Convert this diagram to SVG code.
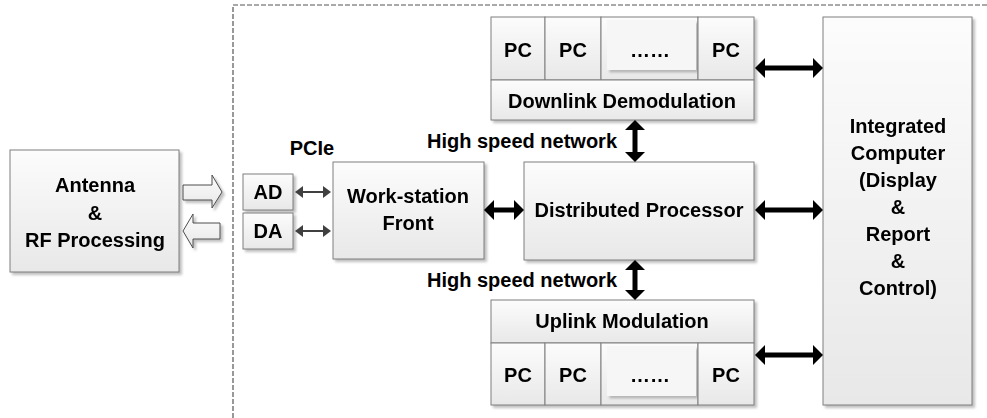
<svg xmlns="http://www.w3.org/2000/svg" width="987" height="418" viewBox="0 0 987 418">
<defs>
<linearGradient id="g" x1="0" y1="0" x2="0" y2="1">
<stop offset="0" stop-color="#fcfcfc"/>
<stop offset="1" stop-color="#e8e8e8"/>
</linearGradient>
<filter id="sh" x="-10%" y="-10%" width="130%" height="130%">
<feDropShadow dx="2.5" dy="2.5" stdDeviation="1.2" flood-color="#8c8c8c" flood-opacity="0.55"/>
</filter>
<marker id="ah" viewBox="0 0 10 20" markerUnits="userSpaceOnUse" markerWidth="10" markerHeight="20" refX="2" refY="10" orient="auto-start-reverse">
<path d="M0,0 L10,10 L0,20 Z" fill="#000"/>
</marker>
<marker id="ahs" viewBox="0 0 8 12" markerUnits="userSpaceOnUse" markerWidth="8" markerHeight="12" refX="2" refY="6" orient="auto-start-reverse">
<path d="M0,0 L8,6 L0,12 Z" fill="#404040"/>
</marker>
<style>
.box{fill:url(#g);stroke:#7f7f7f;stroke-width:1}
.t{font-family:"Liberation Sans",Arial,sans-serif;font-weight:bold;font-size:20px;fill:#000;text-anchor:middle}
.thick{stroke:#000;stroke-width:5;fill:none;marker-start:url(#ah);marker-end:url(#ah)}
.thin{stroke:#404040;stroke-width:2;fill:none;marker-start:url(#ahs);marker-end:url(#ahs)}
.hollow{fill:url(#g);stroke:#4d4d4d;stroke-width:1}
</style>
</defs>
<rect width="987" height="418" fill="#fff"/>
<path d="M233,418 V5 H987" fill="none" stroke="#555" stroke-width="1.2" stroke-dasharray="5 2"/>

<g id="antenna" filter="url(#sh)">
<rect class="box" x="10" y="150" width="169" height="122"/>
<text class="t" x="95" y="192">Antenna</text>
<text class="t" x="95" y="220">&amp;</text>
<text class="t" x="95" y="247">RF Processing</text>
</g>

<g id="io-arrows" filter="url(#sh)">
<polygon class="hollow" points="183,185 212,185 212,175 222,192 212,208 212,200 183,200"/>
<polygon class="hollow" points="183,231 193,214 193,223 220,223 220,239 193,239 193,248"/>
</g>

<text class="t" x="312" y="155">PCIe</text>

<g id="ad" filter="url(#sh)">
<rect class="box" x="243" y="174" width="50" height="36"/>
<text class="t" x="268" y="199">AD</text>
</g>
<g id="da" filter="url(#sh)">
<rect class="box" x="243" y="213" width="50" height="36"/>
<text class="t" x="268" y="238">DA</text>
</g>

<g id="workstation" filter="url(#sh)">
<rect class="box" x="333" y="162" width="151" height="97"/>
<text class="t" x="408" y="203">Work-station</text>
<text class="t" x="408" y="230">Front</text>
</g>

<g id="distributed" filter="url(#sh)">
<rect class="box" x="524" y="162" width="230" height="98"/>
<text class="t" x="639" y="217">Distributed Processor</text>
</g>

<g id="downlink" filter="url(#sh)">
<rect class="box" x="491" y="17" width="54" height="63"/>
<rect class="box" x="545" y="17" width="56" height="63"/>
<rect class="box" x="601" y="17" width="97" height="63"/>
<rect x="607" y="20" width="89" height="50" fill="#f6f6f6" stroke="none" filter="url(#sh)"/>
<rect class="box" x="698" y="17" width="56" height="63"/>
<rect class="box" x="491" y="80" width="263" height="40"/>
<text class="t" x="518" y="57">PC</text>
<text class="t" x="573" y="57">PC</text>
<text class="t" x="650" y="57" font-size="17">……</text>
<text class="t" x="726" y="57">PC</text>
<text class="t" x="622" y="108">Downlink Demodulation</text>
</g>

<g id="uplink" filter="url(#sh)">
<rect class="box" x="491" y="300" width="263" height="43"/>
<rect class="box" x="491" y="343" width="54" height="62"/>
<rect class="box" x="545" y="343" width="56" height="62"/>
<rect class="box" x="601" y="343" width="97" height="62"/>
<rect x="607" y="346" width="89" height="50" fill="#f6f6f6" stroke="none" filter="url(#sh)"/>
<rect class="box" x="698" y="343" width="56" height="62"/>
<text class="t" x="622" y="328">Uplink Modulation</text>
<text class="t" x="518" y="382">PC</text>
<text class="t" x="573" y="382">PC</text>
<text class="t" x="650" y="382" font-size="17">……</text>
<text class="t" x="726" y="382">PC</text>
</g>

<g id="integrated" filter="url(#sh)">
<rect class="box" x="823" y="17" width="149" height="388"/>
<text class="t" x="898" y="133">Integrated</text>
<text class="t" x="898" y="160">Computer</text>
<text class="t" x="898" y="187">(Display</text>
<text class="t" x="898" y="214">&amp;</text>
<text class="t" x="898" y="241">Report</text>
<text class="t" x="898" y="268">&amp;</text>
<text class="t" x="898" y="295">Control)</text>
</g>

<g id="labels">
<text class="t" x="617" y="148" style="text-anchor:end">High speed network</text>
<text class="t" x="617" y="287" style="text-anchor:end">High speed network</text>
</g>

<g id="connectors">
<line class="thin" x1="301" y1="192" x2="325" y2="192"/>
<line class="thin" x1="301" y1="231" x2="325" y2="231"/>
<line class="thick" x1="492" y1="210" x2="516" y2="210"/>
<line class="thick" x1="763" y1="210" x2="815" y2="210"/>
<line class="thick" x1="763" y1="68" x2="815" y2="68"/>
<line class="thick" x1="763" y1="355" x2="815" y2="355"/>
<line class="thick" x1="635" y1="128" x2="635" y2="154"/>
<line class="thick" x1="635" y1="268" x2="635" y2="292"/>
</g>
</svg>
